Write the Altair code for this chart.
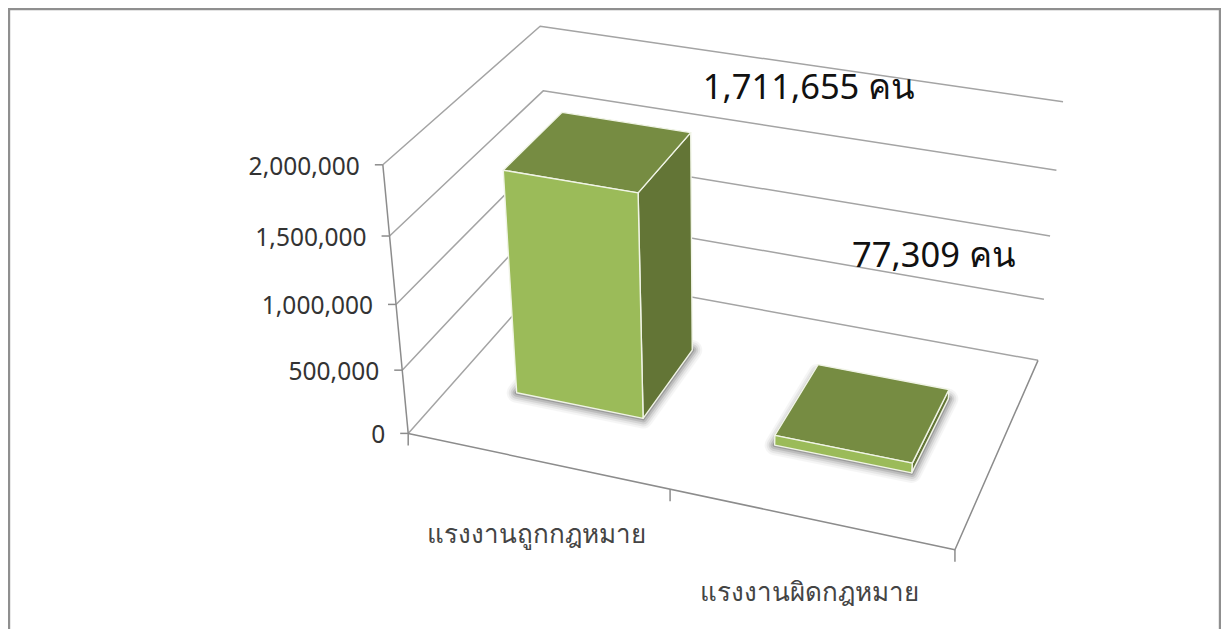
import altair as alt
import numpy as np

# ---- data
categories = ["แรงงานถูกกฎหมาย", "แรงงานผิดกฎหมาย"]
values = [1711655, 77309]
value_labels = ["1,711,655 คน", "77,309 คน"]
ticks = [0, 500000, 1000000, 1500000, 2000000]
tick_labels = ["0", "500,000", "1,000,000", "1,500,000", "2,000,000"]
V_MAX = 2000000

# ---- perspective camera of the 3-D plot box (screen position of the box corners)
OFF = 8
box_u_v_w = [(0, 0, 0), (0, 1, 0), (0, 0, 1), (0, 1, 1), (1, 0, 1), (1, 1, 1), (1, 0, 0)]
box_px = [(408, 433), (383, 165), (552, 272), (540, 26), (1038, 360), (1063, 102), (955, 550)]
A, b = [], []
for (u, v, w), (x, y) in zip(box_u_v_w, box_px):
    A.append([u, v, w, 1, 0, 0, 0, 0, -x * u, -x * v, -x * w]); b.append(x)
    A.append([0, 0, 0, 0, u, v, w, 1, -y * u, -y * v, -y * w]); b.append(y)
p = np.linalg.lstsq(np.array(A, float), np.array(b, float), rcond=None)[0]
P = np.append(p, 1.0).reshape(3, 4)


def cam(u, val, w):
    h = P @ np.array([u, val / V_MAX, w, 1.0])
    return [float(h[0] / h[2] - OFF), float(h[1] / h[2] - OFF)]


features = []


def add(geom, coords, **props):
    features.append({"type": "Feature", "properties": props,
                     "geometry": {"type": geom, "coordinates": coords}})


def poly(points, fill, stroke="transparent", sw=1.0, op=1.0):
    add("Polygon", [points + [points[0]]], fill=fill, stroke=stroke, sw=sw, op=op)


def line(points, stroke="#9a9a9a", sw=1.3):
    add("LineString", points, fill="transparent", stroke=stroke, sw=sw, op=1.0)


# walls and floor gridlines
for t in ticks:
    line([cam(0, t, 0), cam(0, t, 1), cam(1, t, 1)], "#a4a4a4", 1.5)
line([cam(0, 0, 0), cam(1, 0, 0), cam(1, 0, 1)], "#8c8c8c", 1.5)
line([cam(0, 0, 0), cam(0, V_MAX, 0)], "#8c8c8c", 1.5)
for t in ticks:
    a = cam(0, t, 0)
    line([a, [a[0] - 8, a[1]]], "#8c8c8c", 1.5)
for u in (0, 0.5, 1):
    a = cam(u, 0, 0)
    line([a, [a[0], a[1] + 12]], "#8c8c8c", 1.5)

# bars
bar_u = [(0.125, 0.375), (0.625, 0.875)]
bar_w = (0.3, 0.7)
FRONT, TOP, SIDE, EDGE = "#9BBB59", "#768C42", "#637536", "#F0F4E6"
for (u0, u1), val in zip(bar_u, values):
    w0, w1 = bar_w
    foot = [cam(u0, 0, w0), cam(u1, 0, w0), cam(u1, 0, w1), cam(u0, 0, w1)]
    for sw, op in ((20, 0.05), (16, 0.08), (12, 0.12), (8, 0.18), (4, 0.30)):
        poly(foot, "#555555", "#555555", sw, op)
    poly([cam(u1, 0, w0), cam(u1, 0, w1), cam(u1, val, w1), cam(u1, val, w0)], SIDE, EDGE, 1.4)
    poly([cam(u0, val, w0), cam(u1, val, w0), cam(u1, val, w1), cam(u0, val, w1)], TOP, EDGE, 1.4)
    poly([cam(u0, 0, w0), cam(u1, 0, w0), cam(u1, val, w0), cam(u0, val, w0)], FRONT, EDGE, 1.4)

# frame
W, H = 1213, 621
line([[1, H], [1, 1], [W - 1, 1], [W - 1, H]], "#8f8f8f", 2.4)

# texts
texts = []
for t, s in zip(ticks, tick_labels):
    a = cam(0, t, 0)
    texts.append(dict(lon=a[0] - 23, lat=a[1] + 3, t=s, al="right", fs=24.5, col="#333333"))
for c, u in zip(categories, (0.25, 0.75)):
    a = cam(u, 0, 0)
    texts.append(dict(lon=a[0], lat=a[1] + 74, t=c, al="center", fs=26, col="#444444"))
for s, val, (u0, u1), (dx, dy) in zip(value_labels, values, bar_u, [(12, -44), (-97, -132)]):
    a = cam(u1, val, bar_w[1])
    texts.append(dict(lon=a[0] + dx, lat=a[1] + dy, t=s, al="left", fs=34.5, col="#111111"))

PROJ = dict(type="identity", scale=1, translate=[0, 0])

shapes = alt.Chart(alt.Data(values=features)).mark_geoshape(strokeJoin="round").encode(
    fill=alt.Fill("properties.fill:N", scale=None),
    stroke=alt.Stroke("properties.stroke:N", scale=None),
    strokeWidth=alt.StrokeWidth("properties.sw:Q", scale=None),
    opacity=alt.Opacity("properties.op:Q", scale=None),
).project(**PROJ)

labels = []
for al in ("left", "right", "center"):
    rows = [r for r in texts if r["al"] == al]
    labels.append(alt.Chart(alt.Data(values=rows)).mark_text(
        align=al, baseline="middle", font="Noto Sans").encode(
        longitude="lon:Q", latitude="lat:Q", text="t:N",
        size=alt.Size("fs:Q", scale=None),
        color=alt.Color("col:N", scale=None),
    ).project(**PROJ))

chart = alt.layer(shapes, *labels).properties(
    width=W, height=H, padding=0, background="white",
    autosize=alt.AutoSizeParams(type="none"),
).configure_view(stroke=None)

chart.save("out.html", embed_options={"renderer": "svg", "actions": False})
